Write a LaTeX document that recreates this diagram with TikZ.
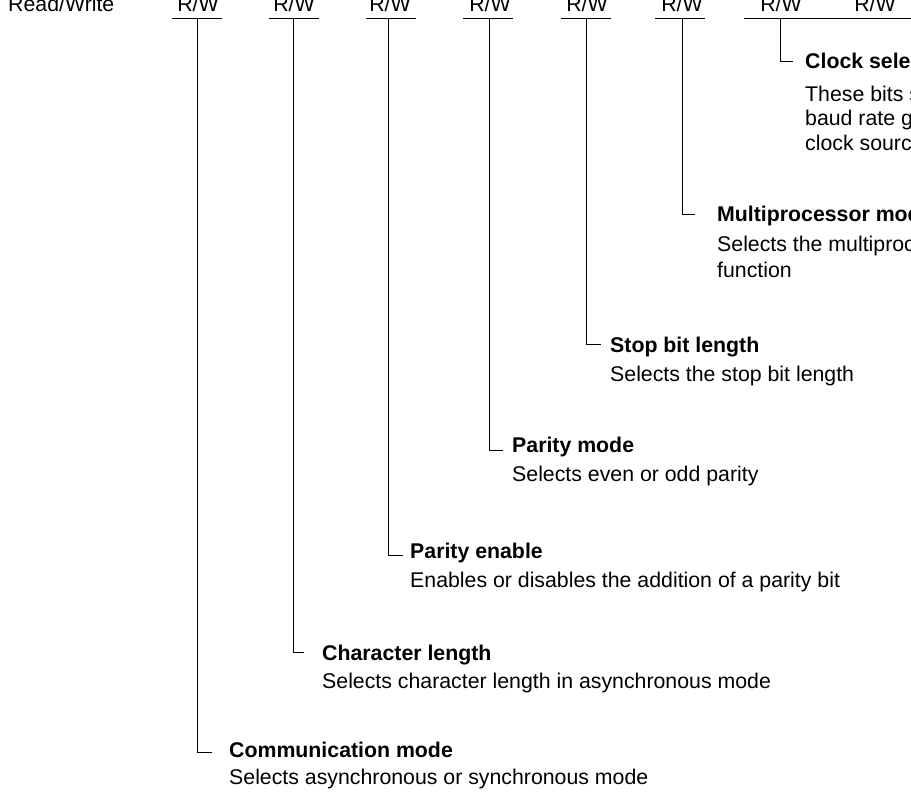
\documentclass[tikz,border=0pt]{standalone}
\usepackage{fontspec}
\setmainfont{Liberation Sans}
\begin{document}
\begin{tikzpicture}[x=1pt,y=-1pt,
  txt/.style={inner sep=0pt, anchor=base west, font=\fontsize{21.3}{25}\selectfont},
  ttl/.style={txt, font=\fontsize{21.3}{25}\selectfont\bfseries},
  rw/.style={inner sep=0pt, anchor=base, font=\fontsize{21.3}{25}\selectfont},
  wire/.style={line width=1pt, black}]
\useasboundingbox (0,0) rectangle (911,794);
\clip (0,0) rectangle (911,794);

% access row
\node[txt] (rwhead) at (8,12) {Read/Write};
\foreach \i/\x in {1/198,2/294,3/390,4/490,5/587,6/682,7/781,8/875}
  \node[rw] (rw\i) at (\x,12) {R/W};

% bit-field brackets under the access labels
\foreach \i/\a/\b in {1/172/222,2/269/319,3/366/416,4/463/513,5/561/611,6/655/705,7/744/915}{
  \coordinate (bl\i) at (\a,19);
  \coordinate (br\i) at (\b,19);
  \draw[wire] (bl\i) -- (br\i);
}
\foreach \i/\x in {1/197,2/293,3/388,4/489,5/586,6/682,7/780}
  \coordinate (top\i) at (\x,19);

% stub ends of the leader lines
\coordinate (s7) at (793,62);
\coordinate (s6) at (695,215);
\coordinate (s5) at (601,345);
\coordinate (s4) at (503,450);
\coordinate (s3) at (403,555);
\coordinate (s2) at (304,652);
\coordinate (s1) at (212,752);

\foreach \i in {1,...,7}
  \draw[wire] (top\i) |- (s\i);

% field descriptions
\node[ttl] (clkT) at (805,69) {Clock select};
\node[txt] (clkA) at (805,102) {These bits select the};
\node[txt] (clkB) at (805,126) {baud rate generator};
\node[txt] (clkC) at (805,151) {clock source};

\node[ttl] (mpT) at (717,222) {Multiprocessor mode};
\node[txt] (mpA) at (717,252) {Selects the multiprocessor};
\node[txt] (mpB) at (717,278) {function};

\node[ttl] (stT) at (610,353) {Stop bit length};
\node[txt] (stA) at (610,382) {Selects the stop bit length};

\node[ttl] (pmT) at (512,453) {Parity mode};
\node[txt] (pmA) at (512,481) {Selects even or odd parity};

\node[ttl] (peT) at (410,558) {Parity enable};
\node[txt] (peA) at (410,587) {Enables or disables the addition of a parity bit};

\node[ttl] (clT) at (322,660) {Character length};
\node[txt] (clA) at (322,688) {Selects character length in asynchronous mode};

\node[ttl] (cmT) at (229,757) {Communication mode};
\node[txt] (cmA) at (229,784) {Selects asynchronous or synchronous mode};
\end{tikzpicture}
\end{document}
